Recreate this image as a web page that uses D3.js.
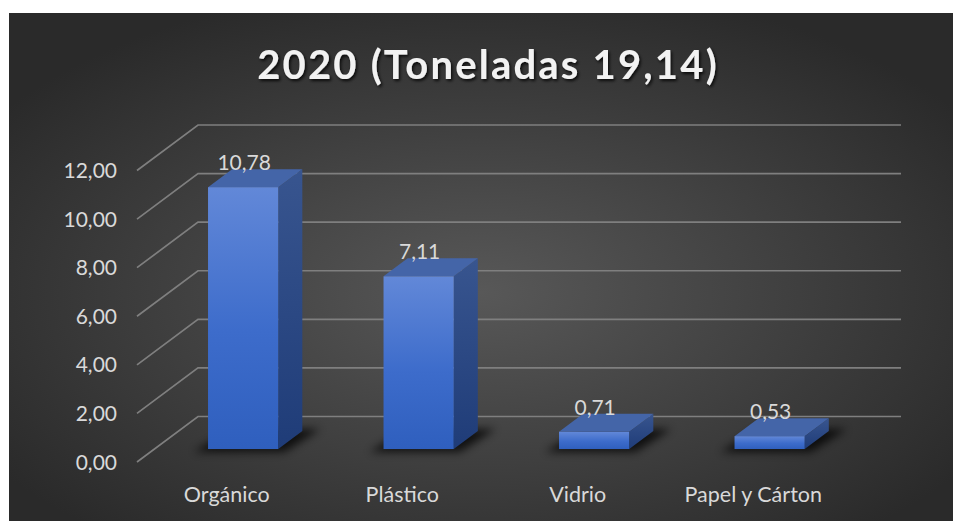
<!DOCTYPE html>
<html>
<head>
<meta charset="utf-8">
<script src="https://cdn.jsdelivr.net/npm/d3@7"></script>
<style>
  html, body { margin: 0; padding: 0; background: #ffffff; }
  svg { display: block; }
</style>
</head>
<body>
<svg id="chart" width="954" height="521"></svg>
<script>
const title = "2020 (Toneladas 19,14)";
const categories = ["Orgánico", "Plástico", "Vidrio", "Papel y Cárton"];
const values = [10.78, 7.11, 0.71, 0.53];
const valueLabels = ["10,78", "7,11", "0,71", "0,53"];
const tickValues = [0, 2, 4, 6, 8, 10, 12];
const tickLabels = ["0,00", "2,00", "4,00", "6,00", "8,00", "10,00", "12,00"];

const svg = d3.select("#chart");
const defs = svg.append("defs");

// background
const rg = defs.append("radialGradient").attr("id", "bg")
  .attr("cx", "50%").attr("cy", "55%").attr("r", "62%");
rg.append("stop").attr("offset", "0%").attr("stop-color", "#585858");
rg.append("stop").attr("offset", "100%").attr("stop-color", "#2a2a2a");
svg.append("rect").attr("x", 9).attr("y", 13).attr("width", 944).attr("height", 508)
  .attr("fill", "url(#bg)");

// gradients for bars
const gFront = defs.append("linearGradient").attr("id", "gFront").attr("x1", 0).attr("y1", 0).attr("x2", 0).attr("y2", 1);
gFront.append("stop").attr("offset", "0%").attr("stop-color", "#6288d8");
gFront.append("stop").attr("offset", "55%").attr("stop-color", "#3d6ccb");
gFront.append("stop").attr("offset", "100%").attr("stop-color", "#2f5fbe");
const gSide = defs.append("linearGradient").attr("id", "gSide").attr("x1", 0).attr("y1", 0).attr("x2", 0).attr("y2", 1);
gSide.append("stop").attr("offset", "0%").attr("stop-color", "#38558f");
gSide.append("stop").attr("offset", "100%").attr("stop-color", "#1f3c78");

const blur = defs.append("filter").attr("id", "blur").attr("x", "-50%").attr("y", "-50%").attr("width", "200%").attr("height", "200%");
blur.append("feGaussianBlur").attr("stdDeviation", 4);

const tshadow = defs.append("filter").attr("id", "tshadow").attr("x", "-10%").attr("y", "-30%").attr("width", "120%").attr("height", "160%");
tshadow.append("feDropShadow").attr("dx", 1.5).attr("dy", 2).attr("stdDeviation", 1.5)
  .attr("flood-color", "#000").attr("flood-opacity", 0.8);

// geometry
const floorLeft = 138, floorRight = 840;
const depthDX = 61, depthDY = -45.5;
const y = d3.scaleLinear().domain([0, 12]).range([462, 170.5]);
const x = d3.scaleBand().domain(categories).range([floorLeft, floorRight]).paddingInner(0).paddingOuter(0);
const f1 = 0.285, f2 = 0.68;   // bar front/back depth fractions
const barW = x.bandwidth() * 0.4;
const font = "Lato, 'Open Sans', sans-serif";

// gridlines
const grid = svg.append("g").attr("fill", "none").attr("stroke", "#7f7f7f").attr("stroke-width", 1.7);
tickValues.forEach(v => {
  const yf = y(v);
  grid.append("path").attr("d",
    `M${floorLeft - 1},${yf} L${floorLeft - 1 + depthDX},${yf + depthDY} L${floorRight + depthDX},${yf + depthDY}`);
});

// axis labels
svg.append("g").selectAll("text").data(tickValues).join("text")
  .attr("x", 117).attr("y", d => y(d)).attr("dy", "0.36em")
  .attr("text-anchor", "end")
  .attr("font-family", font).attr("font-size", 21)
  .attr("fill", "#d9d9d9")
  .text((d, i) => tickLabels[i]);

// bars
const bars = svg.append("g");
categories.forEach((c, i) => {
  const cx = x(c) + x.bandwidth() / 2;
  const x0 = cx - barW / 2 + f1 * depthDX;
  const x1 = x0 + barW;
  const y0 = y(0) + f1 * depthDY;
  const yt = y(values[i]) + f1 * depthDY;
  const ddx = (f2 - f1) * depthDX, ddy = (f2 - f1) * depthDY;
  // shadow
  bars.append("path")
    .attr("d", `M${x0 - 14},${y0 + 3} L${x1 + 6},${y0 + 3} L${x1 + ddx + 18},${y0 + ddy - 2} L${x0 + ddx},${y0 + ddy - 2} Z`)
    .attr("fill", "#000").attr("opacity", 0.75).attr("filter", "url(#blur)");
  // side
  bars.append("path")
    .attr("d", `M${x1},${y0} L${x1 + ddx},${y0 + ddy} L${x1 + ddx},${yt + ddy} L${x1},${yt} Z`)
    .attr("fill", "url(#gSide)");
  // top
  bars.append("path")
    .attr("d", `M${x0},${yt} L${x1},${yt} L${x1 + ddx},${yt + ddy} L${x0 + ddx},${yt + ddy} Z`)
    .attr("fill", "#4465a8");
  // front
  bars.append("rect").attr("x", x0).attr("y", yt).attr("width", barW).attr("height", y0 - yt)
    .attr("fill", "url(#gFront)");
  // value label
  svg.append("text")
    .attr("x", cx + f1 * depthDX + 1).attr("y", yt + ddy + 1)
    .attr("text-anchor", "middle")
    .attr("font-family", font).attr("font-size", 21)
    .attr("fill", "#d9d9d9")
    .text(valueLabels[i]);
});

// category labels
svg.append("g").selectAll("text").data(categories).join("text")
  .attr("x", d => x(d) + x.bandwidth() / 2 + 1).attr("y", 502)
  .attr("text-anchor", "middle")
  .attr("font-family", font).attr("font-size", 21.5)
  .attr("fill", "#d9d9d9")
  .text(d => d);

// title
svg.append("text").attr("x", 488).attr("y", 79).attr("text-anchor", "middle")
  .attr("font-family", font).attr("font-weight", "bold")
  .attr("font-size", 40).attr("letter-spacing", 2.2)
  .attr("fill", "#f2f2f2").attr("filter", "url(#tshadow)")
  .text(title);
</script>
</body>
</html>
